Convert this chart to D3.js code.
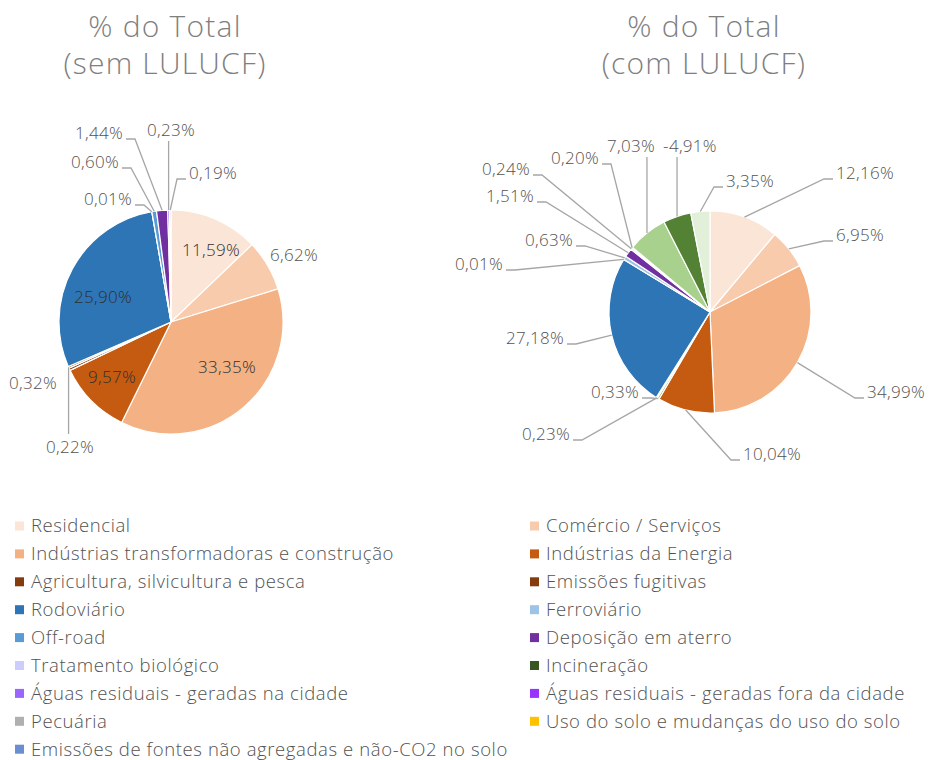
<!DOCTYPE html>
<html>
<head>
<meta charset="utf-8">
<script src="https://cdn.jsdelivr.net/npm/d3@7/dist/d3.min.js"></script>
<style>
  body { margin: 0; background: #ffffff; }
  text { font-family: 'Open Sans', sans-serif; font-weight: 300; }
</style>
</head>
<body>
<div id="chart"></div>
<script>
// Legend categories and colours
var categories = [
    'Residencial', 'Comércio / Serviços',
    'Indústrias transformadoras e construção', 'Indústrias da Energia',
    'Agricultura, silvicultura e pesca', 'Emissões fugitivas',
    'Rodoviário', 'Ferroviário',
    'Off-road', 'Deposição em aterro',
    'Tratamento biológico', 'Incineração',
    'Águas residuais - geradas na cidade', 'Águas residuais - geradas fora da cidade',
    'Pecuária', 'Uso do solo e mudanças do uso do solo',
    'Emissões de fontes não agregadas e não-CO2 no solo'
];
var categoryColors = [
    '#FBE5D6', '#F8CBAD', '#F4B183', '#C55A11', '#843C0C', '#843C0C',
    '#2E75B6', '#9DC3E6', '#5B9BD5', '#7030A0', '#CCCCFF', '#385723',
    '#9966FF', '#9933FF', '#B0B0B0', '#FFC000', '#6A8FD0'
];

// Series values (% of total), in slice order clockwise from 12 o'clock
var semValues = [11.59, 6.62, 33.35, 9.57, 0.32, 0.22, 25.90, 0.01, 0.60, 1.44, 0.23, 0.19];
var comValues = [12.16, 6.95, 34.99, 10.04, 0.33, 0.23, 27.18, 0.01, 0.63, 1.51, 0.24, 0.20, 7.03, -4.91, 3.35];

// Slice colours
var semColors = ['#FBE5D6', '#F8CBAD', '#F4B183', '#C55A11', '#843C0C', '#9E4A14',
    '#2E75B6', '#9DC3E6', '#5B9BD5', '#7030A0', '#9966FF', '#CCCCFF'];
var comColors = ['#FBE5D6', '#F8CBAD', '#F4B183', '#C55A11', '#70AD47', '#A9D18E',
    '#2E75B6', '#9DC3E6', '#9DC3E6', '#7030A0', '#9966FF', '#CCCCFF',
    '#A9D18E', '#548235', '#E2F0D9'];

// Label placement (offset of label centre from pie centre, leader type)
var semLabelLayout = [
    { dx: 40, dy: -72, leader: 'inside' }, { dx: 123, dy: -67, leader: 'none' },
    { dx: 56, dy: 45, leader: 'inside' }, { dx: -59, dy: 55, leader: 'inside' },
    { dx: -138, dy: 61, leader: 'none' }, { dx: -101, dy: 125, leader: 'above' },
    { dx: -68, dy: -25, leader: 'inside' }, { dx: -63, dy: -123, leader: 'right' },
    { dx: -76, dy: -160, leader: 'right' }, { dx: -72, dy: -189, leader: 'right' },
    { dx: 0, dy: -192, leader: 'below' }, { dx: 42, dy: -149, leader: 'left' }
];
var comLabelLayout = [
    { dx: 155, dy: -139, leader: 'left' }, { dx: 150, dy: -77, leader: 'left' },
    { dx: 186, dy: 80, leader: 'left' }, { dx: 62, dy: 142, leader: 'left' },
    { dx: -95, dy: 80, leader: 'right' }, { dx: -164, dy: 122, leader: 'right' },
    { dx: -175, dy: 26, leader: 'right' }, { dx: -231, dy: -48, leader: 'right' },
    { dx: -161, dy: -72, leader: 'right' }, { dx: -200, dy: -116, leader: 'right' },
    { dx: -204, dy: -143, leader: 'right' }, { dx: -135, dy: -154, leader: 'right' },
    { dx: -79, dy: -166, leader: 'below' }, { dx: -20, dy: -166, leader: 'below' },
    { dx: 40, dy: -131, leader: 'left' }
];

var width = 929,
    height = 760;

var locale = d3.formatLocale({ decimal: ',', thousands: '.', grouping: [3], currency: ['', '€'], minus: '-' });
var pctFormat = locale.format('.2f');

var svg = d3.select('#chart').append('svg')
    .attr('width', width)
    .attr('height', height);

// Pie chart with labels
function drawPie(values, colors, layout, cx, cy, radius, title) {
    var g = svg.append('g').attr('class', 'pie');

    // Title (two lines)
    g.selectAll('text.title')
        .data(title)
        .enter()
        .append('text')
        .attr('class', 'title')
        .attr('x', cx - 6)
        .attr('y', function(d, i) { return 37 + i * 37; })
        .attr('text-anchor', 'middle')
        .style('font-size', '30px')
        .style('letter-spacing', '1.2px')
        .style('fill', '#7F7F7F')
        .text(function(d) { return d; });

    var pie = d3.pie().sort(null).value(function(d) { return Math.abs(d); });
    var arc = d3.arc().innerRadius(0).outerRadius(radius);
    var arcs = pie(values);

    // Slices
    g.append('g')
        .attr('transform', 'translate(' + cx + ',' + cy + ')')
        .selectAll('path')
        .data(arcs)
        .enter()
        .append('path')
        .attr('d', arc)
        .attr('fill', function(d, i) { return colors[i]; })
        .attr('stroke', '#ffffff')
        .attr('stroke-width', 1.2);

    // Labels
    var labelG = g.append('g');
    arcs.forEach(function(d, i) {
        var lay = layout[i];
        var lx = cx + lay.dx,
            ly = cy + lay.dy;
        var label = labelG.append('text')
            .attr('x', lx)
            .attr('y', ly)
            .attr('dy', '0.35em')
            .attr('text-anchor', 'middle')
            .style('font-size', '17px')
            .style('letter-spacing', '0.3px')
            .style('fill', lay.leader === 'inside' ? '#303030' : '#525252')
            .text(pctFormat(d.data) + '%');

        if (lay.leader === 'inside' || lay.leader === 'none') return;

        // Point on the slice edge at its mid angle
        var mid = (d.startAngle + d.endAngle) / 2;
        var ex = cx + radius * Math.sin(mid),
            ey = cy - radius * Math.cos(mid);
        var w = label.node().getComputedTextLength();
        var pts;
        if (lay.leader === 'right') {
            pts = [[lx + w / 2 + 3, ly + 6], [lx + w / 2 + 12, ly + 6], [ex, ey]];
        } else if (lay.leader === 'left') {
            pts = [[lx - w / 2 - 3, ly + 6], [lx - w / 2 - 12, ly + 6], [ex, ey]];
        } else if (lay.leader === 'below') {
            pts = [[ex, ly + 11], [ex, ey]];
        } else {
            pts = [[ex, ly - 13], [ex, ey]];
        }
        labelG.insert('path', 'text')
            .attr('d', d3.line()(pts))
            .attr('fill', 'none')
            .attr('stroke', '#A6A6A6')
            .attr('stroke-width', 1.3);
    });
}

drawPie(semValues, semColors, semLabelLayout, 171, 322, 112, ['% do Total', '(sem LULUCF)']);
drawPie(comValues, comColors, comLabelLayout, 710, 312, 101, ['% do Total', '(com LULUCF)']);

// Legend (two columns, row-major)
var legend = svg.append('g').attr('class', 'legend');
var legendItem = legend.selectAll('g')
    .data(categories)
    .enter()
    .append('g')
    .attr('transform', function(d, i) {
        return 'translate(' + (i % 2 === 0 ? 15 : 530) + ',' + (526 + Math.floor(i / 2) * 27.9) + ')';
    });
legendItem.append('rect')
    .attr('x', 0)
    .attr('y', -4.5)
    .attr('width', 9)
    .attr('height', 9)
    .attr('fill', function(d, i) { return categoryColors[i]; });
legendItem.append('text')
    .attr('x', 16)
    .attr('y', 0)
    .attr('dy', '0.35em')
    .style('font-size', '18.5px')
    .style('letter-spacing', '0.6px')
    .style('fill', '#525252')
    .text(function(d) { return d; });
</script>
</body>
</html>
